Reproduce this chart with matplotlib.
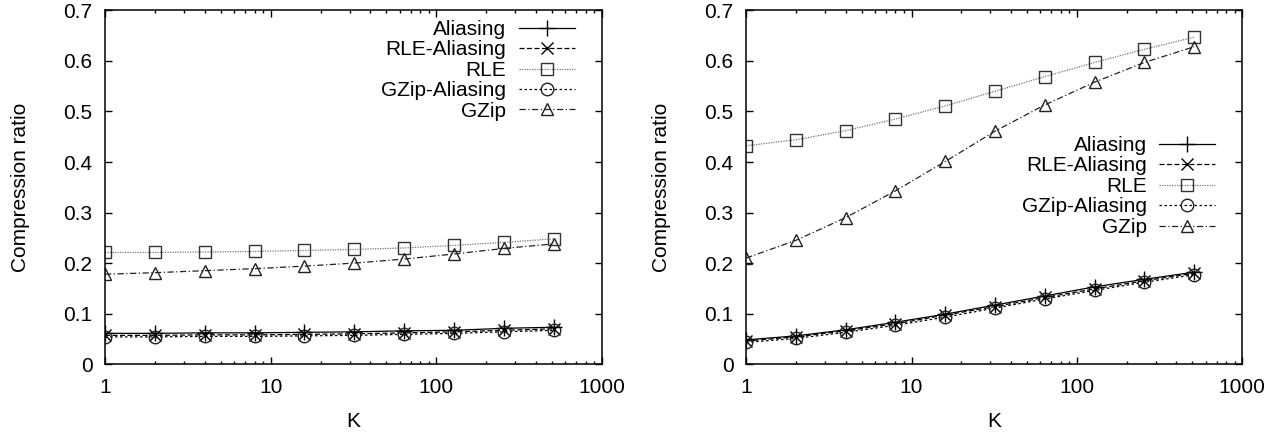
import numpy as np
import matplotlib
matplotlib.use('Agg')
import matplotlib.pyplot as plt
from matplotlib.ticker import LogLocator, NullFormatter, FixedLocator, FixedFormatter

plt.rcParams['font.family'] = ['Liberation Sans', 'DejaVu Sans']

K = [1, 2, 4, 8, 16, 32, 64, 128, 256, 512]
LABELS = ['Aliasing', 'RLE-Aliasing', 'RLE', 'GZip-Aliasing', 'GZip']

# 左图
left_aliasing = [0.061, 0.061, 0.062, 0.062, 0.063, 0.064, 0.066, 0.067, 0.071, 0.073]
left_rle_aliasing = [0.057, 0.057, 0.058, 0.058, 0.059, 0.060, 0.062, 0.064, 0.067, 0.070]
left_rle = [0.221, 0.221, 0.222, 0.223, 0.225, 0.227, 0.230, 0.235, 0.241, 0.248]
left_gzip_aliasing = [0.054, 0.054, 0.055, 0.055, 0.056, 0.057, 0.059, 0.061, 0.064, 0.067]
left_gzip = [0.178, 0.181, 0.185, 0.189, 0.194, 0.200, 0.208, 0.218, 0.229, 0.238]

# 右图
right_aliasing = [0.048, 0.056, 0.068, 0.083, 0.099, 0.117, 0.135, 0.153, 0.168, 0.182]
right_rle_aliasing = [0.046, 0.054, 0.066, 0.080, 0.097, 0.114, 0.132, 0.149, 0.165, 0.180]
right_rle = [0.432, 0.444, 0.462, 0.485, 0.511, 0.540, 0.569, 0.597, 0.623, 0.647]
right_gzip_aliasing = [0.043, 0.051, 0.063, 0.077, 0.093, 0.111, 0.129, 0.146, 0.162, 0.177]
right_gzip = [0.210, 0.245, 0.290, 0.343, 0.401, 0.461, 0.513, 0.558, 0.597, 0.628]

STYLES = [
    dict(color='black', ls='-', marker='+', ms=11, mew=1.0),
    dict(color='black', ls=(0, (4, 2)), marker='x', ms=9, mew=1.0),
    dict(color='#777777', ls=(0, (1, 1)), marker='s', ms=8.5, mfc='none', mec='#333333', mew=1.0),
    dict(color='black', ls=(0, (2, 2)), marker='o', ms=9, mfc='none', mec='#222222', mew=1.0),
    dict(color='#222222', ls=(0, (5, 2, 1, 2)), marker='^', ms=9, mfc='none', mec='#222222', mew=1.0),
]

FS = 15


def draw_panel(ax, series, anchor):
    """画一组压缩比曲线"""
    for vals, lab, st in zip(series, LABELS, STYLES):
        ax.plot(K, vals, label=lab, lw=0.9, **st)
    ax.set_xscale('log')
    ax.set_xlim(1, 1000)
    ax.set_ylim(0, 0.7)
    ax.xaxis.set_major_locator(FixedLocator([1, 10, 100, 1000]))
    ax.xaxis.set_major_formatter(FixedFormatter(['1', '10', '100', '1000']))
    ax.xaxis.set_minor_locator(LogLocator(base=10, subs=np.arange(2, 10)))
    ax.xaxis.set_minor_formatter(NullFormatter())
    ax.set_yticks(np.arange(0, 0.71, 0.1))
    ax.set_yticklabels(['0', '0.1', '0.2', '0.3', '0.4', '0.5', '0.6', '0.7'])
    ax.tick_params(which='both', direction='in', top=True, right=True, labelsize=FS)
    ax.tick_params(which='major', length=5, width=1)
    ax.tick_params(which='minor', length=2.5, width=1)
    ax.tick_params(axis='x', pad=10)
    ax.tick_params(axis='y', pad=9)
    for sp in ax.spines.values():
        sp.set_linewidth(1.1)
    ax.set_xlabel('K', fontsize=FS, labelpad=11)
    ax.set_ylabel('Compression ratio', fontsize=FS, labelpad=24)
    leg = ax.legend(loc='upper right', bbox_to_anchor=anchor, frameon=False,
                    markerfirst=False, fontsize=FS, handlelength=2.7,
                    labelspacing=0.07, handletextpad=0.6,
                    borderpad=0, borderaxespad=0)
    return leg


fig = plt.figure(figsize=(12.82, 4.32), dpi=100)
ax1 = fig.add_axes([0.0819, 0.157, 0.3877, 0.819])
ax2 = fig.add_axes([0.582, 0.157, 0.387, 0.819])

draw_panel(ax1, [left_aliasing, left_rle_aliasing, left_rle, left_gzip_aliasing, left_gzip],
           (0.946, 0.973))
draw_panel(ax2, [right_aliasing, right_rle_aliasing, right_rle, right_gzip_aliasing, right_gzip],
           (0.946, 0.645))

fig.savefig('out.png', dpi=100)
